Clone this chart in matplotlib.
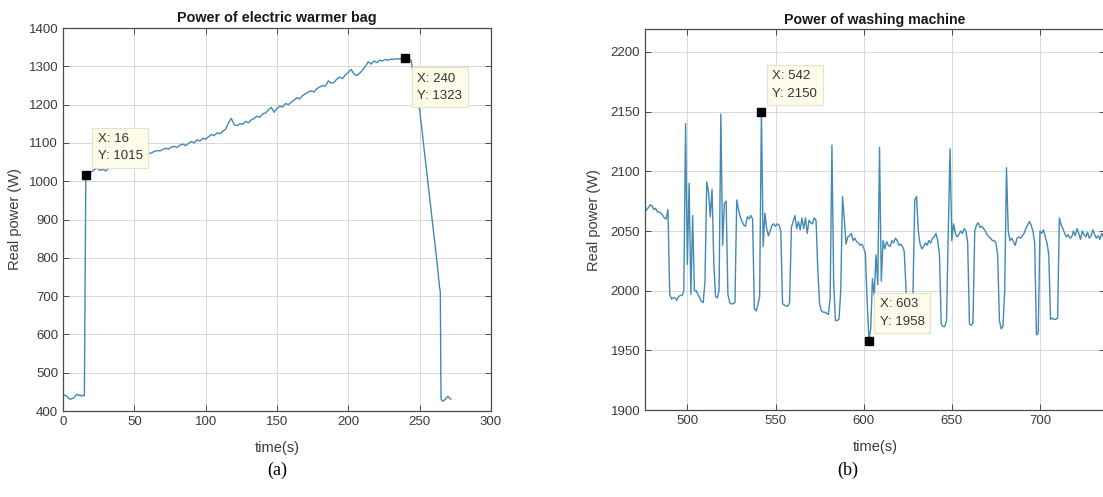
import numpy as np
import matplotlib
matplotlib.use("Agg")
from matplotlib import pyplot as plt

plt.rcParams['font.family'] = ['Liberation Sans', 'DejaVu Sans']

# (a) electric warmer bag
t_bag = [0, 1, 2, 3, 4, 5, 6, 7, 8, 9, 10, 11, 12, 13, 14, 15,
         16, 18, 20, 22, 24, 26, 28, 30, 32, 34, 36, 38, 40, 42, 44, 46, 48,
         50, 52, 54, 56, 58, 60, 62, 64, 66, 68, 70, 72, 74, 76, 78, 80, 82,
         84, 86, 88, 90, 92, 94, 96, 98, 100, 102, 104, 106, 108, 110, 112,
         114, 116, 118, 120, 122, 124, 126, 128, 130, 132, 134, 136, 138, 140,
         142, 144, 146, 148, 150, 152, 154, 156, 158, 160, 162, 164, 166, 168,
         170, 172, 174, 176, 178, 180, 182, 184, 186, 188, 190, 192, 194, 196,
         198, 200, 202, 204, 206, 208, 210, 212, 214, 216, 218, 220, 222, 224,
         226, 228, 230, 232, 234, 236, 238, 240,
         242, 244, 246, 248, 250, 252, 254, 256, 258, 260, 262, 264, 264.5,
         265, 266, 267, 268, 269, 270, 271, 272]
p_bag = [438, 441, 441, 437, 433, 431, 432, 433, 436, 441, 444, 440, 442, 439, 441, 440,
         1015, 1022, 1025, 1030, 1034, 1028, 1031, 1027, 1034, 1038, 1042, 1045, 1050,
         1053, 1056, 1058, 1061, 1063, 1064, 1066, 1068, 1067, 1072, 1074, 1078, 1080,
         1079, 1083, 1086, 1084, 1089, 1091, 1088, 1094, 1097, 1093, 1099, 1104, 1100,
         1108, 1105, 1112, 1110, 1116, 1122, 1119, 1126, 1124, 1130, 1136, 1152, 1164,
         1148, 1145, 1150, 1149, 1156, 1153, 1160, 1164, 1170, 1167, 1176, 1178, 1186,
         1193, 1180, 1190, 1196, 1194, 1203, 1200, 1206, 1212, 1218, 1215, 1224, 1228,
         1233, 1236, 1233, 1242, 1246, 1250, 1248, 1262, 1256, 1258, 1267, 1272, 1268,
         1278, 1284, 1292, 1280, 1276, 1282, 1290, 1300, 1312, 1306, 1314, 1310, 1316,
         1314, 1318, 1316, 1319, 1318, 1320, 1319, 1322, 1323,
         1321, 1316, 1268, 1222, 1187, 1122, 1056, 990, 925, 860, 795, 722, 712,
         432, 426, 427, 431, 436, 438, 434, 431]

# (b) washing machine, one sample per second from t = 476
t_wash = list(range(476, 737))
p_wash = [2066, 2068, 2070, 2072, 2071, 2068, 2069, 2066, 2066, 2065, 2063, 2061, 2060,
          2068, 1997, 1993, 1994, 1994, 1992, 1995, 1996, 1996, 2000, 2140, 2022, 2090,
          1997, 2063, 2000, 2000, 1997, 1994, 1991, 1990, 2008, 2091, 2083, 2062, 2085,
          2023, 1995, 1994, 2000, 2148, 2038, 2073, 2075, 1997, 1990, 1989, 1989, 1990,
          2076, 2068, 2062, 2058, 2055, 2054, 2062, 2060, 2063, 2060, 1985, 1983, 1988,
          1995, 2150, 2037, 2065, 2052, 2046, 2050, 2055, 2056, 2054, 2056, 2055, 2050,
          1989, 1988, 1987, 1987, 1990, 2053, 2058, 2063, 2052, 2058, 2051, 2061, 2052,
          2061, 2048, 2059, 2057, 2056, 2061, 2059, 2017, 1989, 1983, 1982, 1982, 1981,
          1980, 1994, 2122, 2006, 1975, 1975, 1976, 2000, 2079, 2060, 2039, 2045, 2046,
          2048, 2042, 2044, 2041, 2040, 2038, 2039, 2036, 2031, 1990, 1958, 1968, 2010,
          1996, 2030, 2005, 2120, 2008, 2042, 2035, 2041, 2038, 2037, 2042, 2040, 2044,
          2042, 2038, 2039, 2037, 2033, 2003, 1972, 1966, 1968, 2000, 2076, 2079, 2050,
          2039, 2035, 2037, 2040, 2038, 2042, 2040, 2044, 2045, 2048, 2042, 2030, 1972,
          1970, 1970, 1975, 2050, 2119, 2042, 2056, 2048, 2045, 2047, 2050, 2048, 2052,
          2050, 2040, 1972, 1971, 1973, 2050, 2055, 2057, 2053, 2054, 2052, 2050, 2047,
          2045, 2044, 2042, 2042, 2040, 2030, 1975, 1968, 1970, 2000, 2103, 2050, 2042,
          2044, 2041, 2038, 2044, 2045, 2044, 2046, 2048, 2052, 2055, 2058, 2055, 2050,
          2040, 1963, 1964, 2050, 2048, 2051, 2045, 2040, 2030, 1976, 1977, 1976, 1976,
          1977, 2061, 2055, 2052, 2048, 2045, 2047, 2044, 2045, 2050, 2046, 2052, 2048,
          2043, 2050, 2047, 2045, 2049, 2044, 2046, 2051, 2047, 2044, 2046, 2043, 2048,
          2045]

tips_bag = [(16, 1015), (240, 1323)]
tips_wash = [(542, 2150), (603, 1958)]

line_c = '#4289b5'
edge_c = '#4a4a4a'


def matlab_axes(ax):
    for s in ax.spines.values():
        s.set_color(edge_c)
        s.set_linewidth(0.9)
    ax.tick_params(direction='in', length=4, width=0.7, color=edge_c,
                   labelcolor='#3a3a3a', labelsize=9.5, top=True, right=True)
    ax.grid(True, color='#d8d8d8', linewidth=0.7)
    ax.set_axisbelow(True)


def datatip(ax, x, y, dx, dy, va):
    ax.plot([x], [y], 's', color='black', markersize=5.8, zorder=5)
    ax.annotate("X: %d\nY: %d" % (x, y), xy=(x, y), xytext=(dx, dy),
                textcoords='offset pixels', ha='left', va=va, fontsize=9.5,
                color='#333333', linespacing=1.6, zorder=6,
                bbox=dict(boxstyle='square,pad=0.42', fc='#fcfce9', ec='#e4e4cc', lw=0.8))


fig = plt.figure(figsize=(11.03, 4.97), dpi=100)

ax1 = fig.add_axes([0.0571, 0.1730, 0.3880, 0.7706])
ax1.plot(t_bag, p_bag, color=line_c, lw=1.0)
ax1.set_xlim(0, 300)
ax1.set_ylim(400, 1400)
ax1.set_xticks(range(0, 301, 50))
ax1.set_yticks(range(400, 1401, 100))
matlab_axes(ax1)
ax1.set_title('Power of electric warmer bag', fontsize=10.4, fontweight='bold', color='#1a1a1a', pad=4)
ax1.set_xlabel('time(s)', fontsize=10.5, color='#3a3a3a')
ax1.set_ylabel('Real power (W)', fontsize=10.5, color='#3a3a3a')
ax1.xaxis.set_label_coords(0.5, -0.078)
ax1.yaxis.set_label_coords(-0.096, 0.5)
datatip(ax1, *tips_bag[0], 12, 13, 'bottom')
datatip(ax1, *tips_bag[1], 12, -15, 'top')

ax2 = fig.add_axes([0.5848, 0.1750, 0.4172, 0.7660])
ax2.plot(t_wash, p_wash, color=line_c, lw=1.0)
ax2.set_xlim(476, 737)
ax2.set_ylim(1900, 2219)
ax2.set_xticks(range(500, 701, 50))
ax2.set_yticks(range(1900, 2201, 50))
matlab_axes(ax2)
ax2.set_title('Power of washing machine', fontsize=10.2, fontweight='bold', color='#1a1a1a', pad=4)
ax2.set_xlabel('time(s)', fontsize=10.5, color='#3a3a3a')
ax2.set_ylabel('Real power (W)', fontsize=10.5, color='#3a3a3a')
ax2.xaxis.set_label_coords(0.5, -0.078)
ax2.yaxis.set_label_coords(-0.096, 0.5)
datatip(ax2, *tips_wash[0], 11, 12, 'bottom')
datatip(ax2, *tips_wash[1], 11, 13, 'bottom')

fig.text(277 / 1103, 1 - 470 / 497, '(a)', family='Liberation Serif', fontsize=13,
         ha='center', va='center', color='black')
fig.text(848 / 1103, 1 - 470 / 497, '(b)', family='Liberation Serif', fontsize=13,
         ha='center', va='center', color='black')

fig.savefig('out.png', dpi=100)
